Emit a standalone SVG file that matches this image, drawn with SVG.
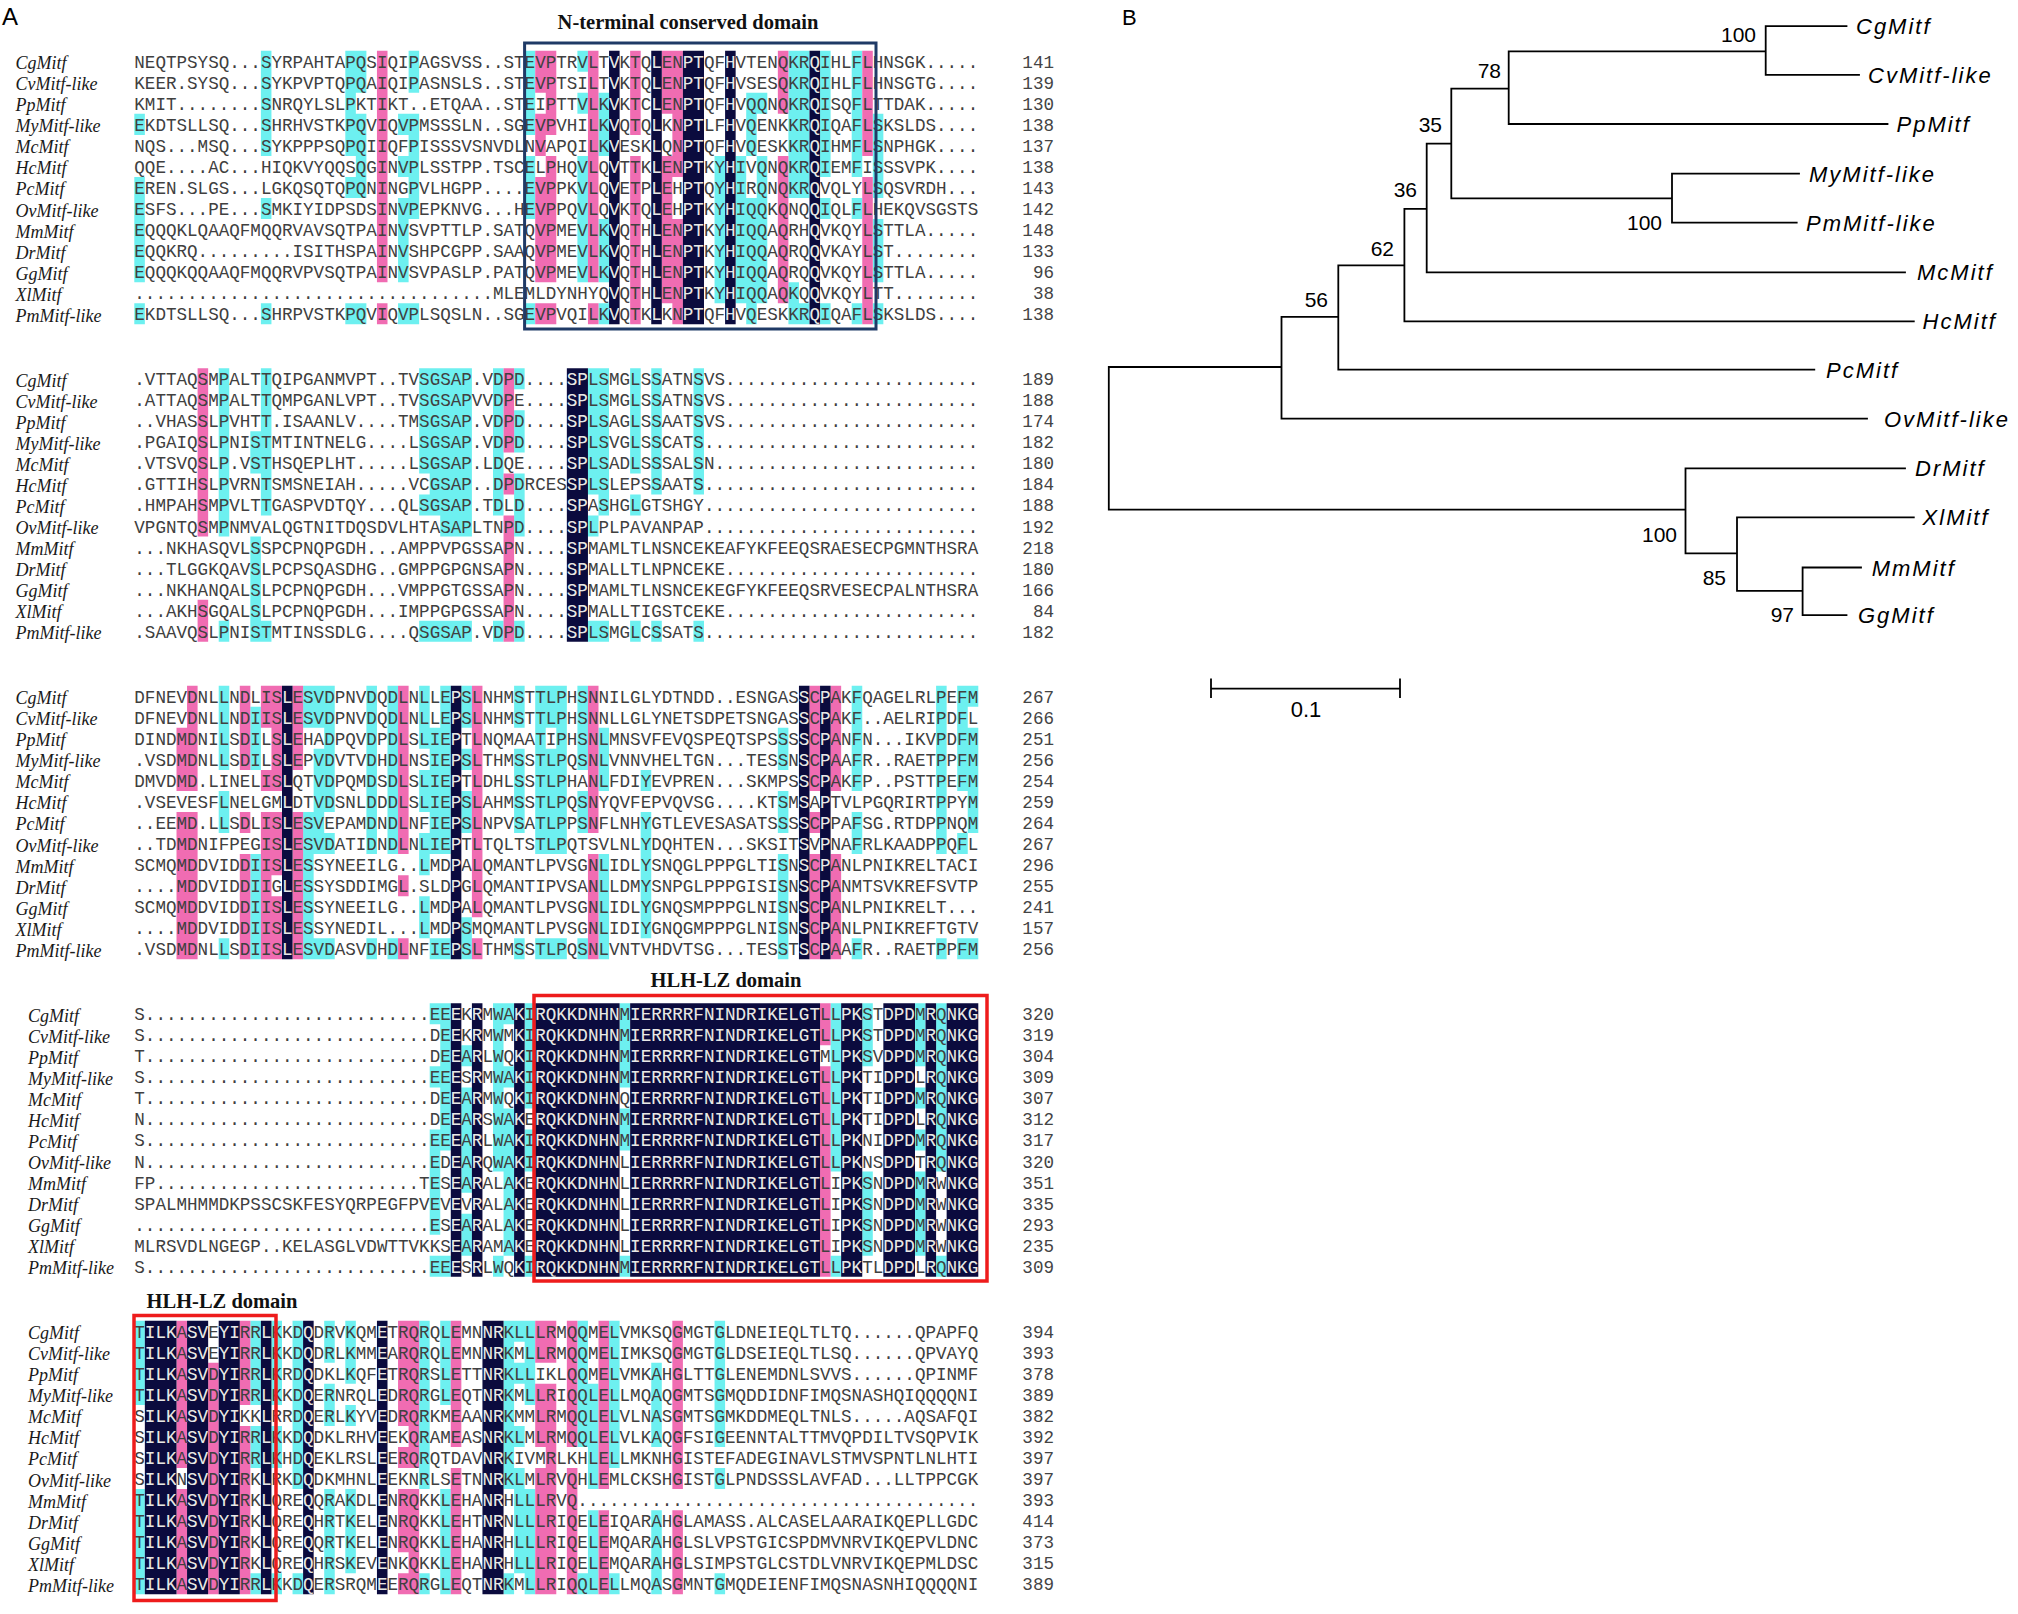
<svg xmlns="http://www.w3.org/2000/svg" xmlns:xlink="http://www.w3.org/1999/xlink" width="2018" height="1614" viewBox="0 0 2018 1614">
<style>
.sq{font-family:"Liberation Mono","DejaVu Sans Mono",monospace;font-size:17.58px}
.nm{font-family:"Liberation Serif",serif;font-style:italic;font-size:18px;fill:#1a1a1a}
.num{font-family:"Liberation Mono",monospace;font-size:17.58px;fill:#444;text-anchor:end}
.cy{fill:#6df0f0}
.pk{fill:#f06cb2}
.dk{fill:#0b0b3e}
.hd{font-family:"Liberation Serif",serif;font-weight:bold;font-size:20.5px;fill:#111;text-anchor:middle}
.bx1{fill:none;stroke:#1f3a66;stroke-width:3}
.bxr{fill:none;stroke:#ee1c1c;stroke-width:3.5}
.pl{font-family:"Liberation Sans",sans-serif;fill:#000}
.br{fill:none;stroke:#000;stroke-width:1.8;stroke-linecap:square}
.lf{font-family:"Liberation Sans",sans-serif;font-style:italic;font-size:22px;letter-spacing:2px;fill:#000}
.bs{font-family:"Liberation Sans",sans-serif;font-size:21px;fill:#000;text-anchor:end}
</style>
<rect width="2018" height="1614" fill="#fff"/>
<text class="pl" x="2" y="25" font-size="24">A</text>

<g id="block1" transform="translate(0,50.7)">
<path class="cy" transform="translate(134.3,0) scale(10.55,21.05)" d="M0 3h1v1h-1zM0 6h1v5h-1zM0 12h1v1h-1zM12 0h1v5h-1zM12 7h1v1h-1zM12 12h1v1h-1zM20 0h1v5h-1zM20 6h1v1h-1zM20 12h1v1h-1zM21 0h1v2h-1zM21 3h1v4h-1zM21 12h1v1h-1zM25 3h1v1h-1zM25 5h1v1h-1zM25 7h1v4h-1zM25 12h1v1h-1zM26 0h1v2h-1zM26 3h1v5h-1zM26 12h1v1h-1zM37 0h1v4h-1zM37 5h1v3h-1zM37 12h1v1h-1zM42 0h1v1h-1zM42 2h1v1h-1zM42 5h1v6h-1zM44 2h1v3h-1zM44 8h1v3h-1zM44 12h1v1h-1zM55 5h1v7h-1zM57 5h1v7h-1zM58 2h1v3h-1zM58 7h1v6h-1zM59 2h1v1h-1zM59 5h1v7h-1zM62 0h1v7h-1zM62 11h1v2h-1zM63 0h1v7h-1zM63 12h1v1h-1zM65 0h1v6h-1zM65 7h1v1h-1zM65 12h1v1h-1zM68 0h1v6h-1zM68 7h1v1h-1zM68 12h1v1h-1zM70 3h1v4h-1zM70 8h1v3h-1zM70 12h1v1h-1z"/>
<path class="pk" transform="translate(134.3,0) scale(10.55,21.05)" d="M23 0h1v11h-1zM23 12h1v1h-1zM38 0h1v2h-1zM38 3h1v2h-1zM38 6h1v5h-1zM38 12h1v1h-1zM39 0h1v4h-1zM39 5h1v6h-1zM39 12h1v1h-1zM43 0h1v11h-1zM43 12h1v1h-1zM47 0h1v4h-1zM47 5h1v8h-1zM50 0h1v3h-1zM50 5h1v7h-1zM51 0h1v6h-1zM51 8h1v5h-1zM61 0h1v3h-1zM61 5h1v7h-1zM69 0h1v5h-1zM69 6h1v7h-1z"/>
<path class="dk" transform="translate(134.3,0) scale(10.55,21.05)" d="M45 0h1v13h-1zM49 0h1v13h-1zM52 0h2v13h-2zM56 0h1v13h-1zM64 0h1v13h-1z"/>
<clipPath id="k1"><path transform="translate(134.3,0) scale(10.55,21.05)" d="M45 0h1v13h-1zM49 0h1v13h-1zM52 0h2v13h-2zM56 0h1v13h-1zM64 0h1v13h-1z"/></clipPath>
<g class="nm">
<text x="15.5" y="18.5">CgMitf</text><text x="15.5" y="39.55">CvMitf-like</text><text x="15.5" y="60.6">PpMitf</text><text x="15.5" y="81.65">MyMitf-like</text><text x="15.5" y="102.7">McMitf</text><text x="15.5" y="123.75">HcMitf</text><text x="15.5" y="144.8">PcMitf</text><text x="15.5" y="165.85">OvMitf-like</text><text x="15.5" y="186.9">MmMitf</text><text x="15.5" y="207.95">DrMitf</text><text x="15.5" y="229">GgMitf</text><text x="15.5" y="250.05">XlMitf</text><text x="15.5" y="271.1">PmMitf-like</text>
</g>
<g fill="#404040"><g id="q1" class="sq">
<text x="134.3" y="17">NEQTPSYSQ...SYRPAHTAPQSIQIPAGSVSS..STEVPTRVLTVKTQLENPTQFHVTENQKRQIHLFLHNSGK.....</text>
<text x="134.3" y="38.05">KEER.SYSQ...SYKPVPTQPQAIQIPASNSLS..STEVPTSILTVKTQLENPTQFHVSESQKRQIHLFLHNSGTG....</text>
<text x="134.3" y="59.1">KMIT........SNRQYLSLPKTIKT..ETQAA..STEIPTTVLKVKTCLENPTQFHVQQNQKRQISQFLTTDAK.....</text>
<text x="134.3" y="80.15">EKDTSLLSQ...SHRHVSTKPQVIQVPMSSSLN..SGEVPVHILKVQTQLKNPTLFHVQENKKRQIQAFLSKSLDS....</text>
<text x="134.3" y="101.2">NQS...MSQ...SYKPPPSQPQIIQFPISSSVSNVDLNVAPQILKVESKLQNPTQFHVQESKKRQIHMFLSNPHGK....</text>
<text x="134.3" y="122.25">QQE....AC...HIQKVYQQSQGINVPLSSTPP.TSCELPHQVLQVTTKLENPTKYHIVQNQKRQIEMFISSSVPK....</text>
<text x="134.3" y="143.3">EREN.SLGS...LGKQSQTQPQNINGPVLHGPP....EVPPKVLQVETPLEHPTQYHIRQNQKRQVQLYLSQSVRDH...</text>
<text x="134.3" y="164.35">ESFS...PE...SMKIYIDPSDSINVPEPKNVG...HEVPPQVLQVKTQLEHPTKYHIQQKQNQQIQLFLHEKQVSGSTS</text>
<text x="134.3" y="185.4">EQQQKLQAAQFMQQRVAVSQTPAINVSVPTTLP.SATQVPMEVLKVQTHLENPTKYHIQQAQRHQVKQYLSTTLA.....</text>
<text x="134.3" y="206.45">EQQKRQ.........ISITHSPAINVSHPCGPP.SAAQVPMEVLKVQTHLENPTKYHIQQAQRQQVKAYLST........</text>
<text x="134.3" y="227.5">EQQQKQQAAQFMQQRVPVSQTPAINVSVPASLP.PATQVPMEVLKVQTHLENPTKYHIQQAQRQQVKQYLSTTLA.....</text>
<text x="134.3" y="248.55">..................................MLEMLDYNHYQVQTHLENPTKYHIQQAQKQQVKQYLTT........</text>
<text x="134.3" y="269.6">EKDTSLLSQ...SHRPVSTKPQVIQVPLSQSLN..SGEVPVQILKVQTKLKNPTQFHVQESKKRQIQAFLSKSLDS....</text>
</g></g>
<use xlink:href="#q1" href="#q1" fill="#e8e8e8" clip-path="url(#k1)"/>
<g class="num">
<text x="1054" y="17">141</text><text x="1054" y="38.05">139</text><text x="1054" y="59.1">130</text><text x="1054" y="80.15">138</text><text x="1054" y="101.2">137</text><text x="1054" y="122.25">138</text><text x="1054" y="143.3">143</text><text x="1054" y="164.35">142</text><text x="1054" y="185.4">148</text><text x="1054" y="206.45">133</text><text x="1054" y="227.5">96</text><text x="1054" y="248.55">38</text><text x="1054" y="269.6">138</text>
</g>
<rect class="bx1" x="524.6" y="-7.7" width="351.4" height="286"/>
<text class="hd" x="688" y="-21.7">N-terminal conserved domain</text>
</g>

<g id="block2" transform="translate(0,368.2)">
<path class="cy" transform="translate(134.3,0) scale(10.55,21.05)" d="M8 0h1v8h-1zM8 12h1v1h-1zM11 3h1v2h-1zM11 8h1v5h-1zM12 0h1v7h-1zM12 12h1v1h-1zM27 0h1v5h-1zM27 6h1v1h-1zM27 12h1v1h-1zM28 0h1v7h-1zM28 12h1v1h-1zM29 0h3v8h-3zM29 12h3v1h-3zM34 0h1v7h-1zM34 12h1v1h-1zM36 0h1v1h-1zM36 2h1v2h-1zM36 5h1v3h-1zM36 12h1v1h-1zM43 0h1v6h-1zM43 7h1v1h-1zM43 12h1v1h-1zM44 0h1v7h-1zM44 12h1v1h-1zM47 0h1v5h-1zM47 6h1v1h-1zM47 12h1v1h-1zM49 0h1v6h-1zM49 12h1v1h-1zM53 0h1v6h-1zM53 12h1v1h-1z"/>
<path class="pk" transform="translate(134.3,0) scale(10.55,21.05)" d="M6 0h1v8h-1zM6 11h1v2h-1zM35 0h1v4h-1zM35 5h1v1h-1zM35 7h1v6h-1z"/>
<path class="dk" transform="translate(134.3,0) scale(10.55,21.05)" d="M41 0h2v13h-2z"/>
<clipPath id="k2"><path transform="translate(134.3,0) scale(10.55,21.05)" d="M41 0h2v13h-2z"/></clipPath>
<g class="nm">
<text x="15.5" y="18.5">CgMitf</text><text x="15.5" y="39.55">CvMitf-like</text><text x="15.5" y="60.6">PpMitf</text><text x="15.5" y="81.65">MyMitf-like</text><text x="15.5" y="102.7">McMitf</text><text x="15.5" y="123.75">HcMitf</text><text x="15.5" y="144.8">PcMitf</text><text x="15.5" y="165.85">OvMitf-like</text><text x="15.5" y="186.9">MmMitf</text><text x="15.5" y="207.95">DrMitf</text><text x="15.5" y="229">GgMitf</text><text x="15.5" y="250.05">XlMitf</text><text x="15.5" y="271.1">PmMitf-like</text>
</g>
<g fill="#404040"><g id="q2" class="sq">
<text x="134.3" y="17">.VTTAQSMPALTTQIPGANMVPT..TVSGSAP.VDPD....SPLSMGLSSATNSVS........................</text>
<text x="134.3" y="38.05">.ATTAQSMPALTTQMPGANLVPT..TVSGSAPVVDPE....SPLSMGLSSATNSVS........................</text>
<text x="134.3" y="59.1">..VHASSLPVHTT.ISAANLV....TMSGSAP.VDPD....SPLSAGLSSAATSVS........................</text>
<text x="134.3" y="80.15">.PGAIQSLPNISTMTINTNELG....LSGSAP.VDPD....SPLSVGLSSCATS..........................</text>
<text x="134.3" y="101.2">.VTSVQSLP.VSTHSQEPLHT.....LSGSAP.LDQE....SPLSADLSSSALSN.........................</text>
<text x="134.3" y="122.25">.GTTIHSLPVRNTSMSNEIAH.....VCGSAP..DPDRCESSPLSLEPSSAATS..........................</text>
<text x="134.3" y="143.3">.HMPAHSMPVLTTGASPVDTQY...QLSGSAP.TDLD....SPASHGLGTSHGY..........................</text>
<text x="134.3" y="164.35">VPGNTQSMPNMVALQGTNITDQSDVLHTASAPLTNPD....SPLPLPAVANPAP..........................</text>
<text x="134.3" y="185.4">...NKHASQVLSSPCPNQPGDH...AMPPVPGSSAPN....SPMAMLTLNSNCEKEAFYKFEEQSRAESECPGMNTHSRA</text>
<text x="134.3" y="206.45">...TLGGKQAVSLPCPSQASDHG..GMPPGPGNSAPN....SPMALLTLNPNCEKE........................</text>
<text x="134.3" y="227.5">...NKHANQALSLPCPNQPGDH...VMPPGTGSSAPN....SPMAMLTLNSNCEKEGFYKFEEQSRVESECPALNTHSRA</text>
<text x="134.3" y="248.55">...AKHSGQALSLPCPNQPGDH...IMPPGPGSSAPN....SPMALLTIGSTCEKE........................</text>
<text x="134.3" y="269.6">.SAAVQSLPNISTMTINSSDLG....QSGSAP.VDPD....SPLSMGLCSSATS..........................</text>
</g></g>
<use xlink:href="#q2" href="#q2" fill="#e8e8e8" clip-path="url(#k2)"/>
<g class="num">
<text x="1054" y="17">189</text><text x="1054" y="38.05">188</text><text x="1054" y="59.1">174</text><text x="1054" y="80.15">182</text><text x="1054" y="101.2">180</text><text x="1054" y="122.25">184</text><text x="1054" y="143.3">188</text><text x="1054" y="164.35">192</text><text x="1054" y="185.4">218</text><text x="1054" y="206.45">180</text><text x="1054" y="227.5">166</text><text x="1054" y="248.55">84</text><text x="1054" y="269.6">182</text>
</g>
</g>

<g id="block3" transform="translate(0,685.7)">
<path class="cy" transform="translate(134.3,0) scale(10.55,21.05)" d="M8 0h1v4h-1zM8 5h1v2h-1zM8 12h1v1h-1zM11 1h1v3h-1zM11 8h1v5h-1zM16 0h1v2h-1zM16 6h1v7h-1zM17 0h1v2h-1zM17 3h1v5h-1zM17 12h1v1h-1zM18 0h1v6h-1zM18 7h1v1h-1zM18 12h1v1h-1zM22 0h1v8h-1zM22 12h1v1h-1zM24 0h1v8h-1zM24 12h1v1h-1zM27 0h1v3h-1zM27 4h1v2h-1zM27 7h1v2h-1zM27 10h1v2h-1zM28 2h1v6h-1zM28 12h1v1h-1zM29 0h1v8h-1zM29 12h1v1h-1zM31 0h1v2h-1zM31 3h1v1h-1zM31 5h1v2h-1zM31 11h1v2h-1zM36 0h1v2h-1zM36 3h1v4h-1zM36 12h1v1h-1zM38 0h1v8h-1zM38 12h1v1h-1zM39 0h1v2h-1zM39 3h1v5h-1zM39 12h1v1h-1zM40 0h1v8h-1zM40 12h1v1h-1zM42 0h1v4h-1zM42 5h1v2h-1zM42 12h1v1h-1zM44 2h1v3h-1zM44 8h1v5h-1zM48 4h1v1h-1zM48 6h1v6h-1zM61 2h1v2h-1zM61 5h1v2h-1zM61 8h1v5h-1zM68 0h1v5h-1zM68 6h1v2h-1zM68 12h1v1h-1zM76 0h1v8h-1zM76 12h1v1h-1zM78 0h1v5h-1zM78 7h1v1h-1zM78 12h1v1h-1zM79 0h1v1h-1zM79 2h1v5h-1zM79 12h1v1h-1z"/>
<path class="pk" transform="translate(134.3,0) scale(10.55,21.05)" d="M4 2h1v3h-1zM4 6h1v7h-1zM5 0h1v5h-1zM5 6h1v7h-1zM10 0h1v4h-1zM10 6h1v1h-1zM10 8h1v5h-1zM12 0h1v2h-1zM12 4h1v1h-1zM12 6h1v7h-1zM13 0h1v5h-1zM13 6h1v3h-1zM13 10h1v3h-1zM15 0h1v4h-1zM15 6h1v7h-1zM25 0h1v8h-1zM25 9h1v1h-1zM25 12h1v1h-1zM32 0h1v11h-1zM32 12h1v1h-1zM43 0h1v7h-1zM43 8h1v5h-1zM64 0h1v5h-1zM64 6h1v1h-1zM64 8h1v5h-1zM66 0h1v5h-1zM66 8h1v5h-1z"/>
<path class="dk" transform="translate(134.3,0) scale(10.55,21.05)" d="M14 0h1v13h-1zM30 0h1v13h-1zM63 0h1v13h-1zM65 0h1v13h-1z"/>
<clipPath id="k3"><path transform="translate(134.3,0) scale(10.55,21.05)" d="M14 0h1v13h-1zM30 0h1v13h-1zM63 0h1v13h-1zM65 0h1v13h-1z"/></clipPath>
<g class="nm">
<text x="15.5" y="18.5">CgMitf</text><text x="15.5" y="39.55">CvMitf-like</text><text x="15.5" y="60.6">PpMitf</text><text x="15.5" y="81.65">MyMitf-like</text><text x="15.5" y="102.7">McMitf</text><text x="15.5" y="123.75">HcMitf</text><text x="15.5" y="144.8">PcMitf</text><text x="15.5" y="165.85">OvMitf-like</text><text x="15.5" y="186.9">MmMitf</text><text x="15.5" y="207.95">DrMitf</text><text x="15.5" y="229">GgMitf</text><text x="15.5" y="250.05">XlMitf</text><text x="15.5" y="271.1">PmMitf-like</text>
</g>
<g fill="#404040"><g id="q3" class="sq">
<text x="134.3" y="17">DFNEVDNLLNDLISLESVDPNVDQDLNLLEPSLNHMSTTLPHSNNILGLYDTNDD..ESNGASSCPAKFQAGELRLPEFM</text>
<text x="134.3" y="38.05">DFNEVDNLLNDIISLESVDPNVDQDLNLLEPSLNHMSTTLPHSNNLLGLYNETSDPETSNGASSCPAKF..AELRIPDFL</text>
<text x="134.3" y="59.1">DINDMDNILSDILSLEHADPQVDPDLSLIEPTLNQMAATIPHSNLMNSVFEVQSPEQTSPSSSSCPANFN...IKVPDFM</text>
<text x="134.3" y="80.15">.VSDMDNLLSDILSLEPVDVTVDHDLNSIEPSLTHMSSTLPQSNLVNNVHELTGN...TESSNSCPAAFR..RAETPPFM</text>
<text x="134.3" y="101.2">DMVDMD.LINELISLQTVDPQMDSDLSLIEPTLDHLSSTLPHANLFDIYEVPREN...SKMPSSCPAKFP..PSTTPEFM</text>
<text x="134.3" y="122.25">.VSEVESFLNELGMLDTVDSNLDDDLSLIEPSLAHMSSTLPQSNYQVFEPVQVSG....KTSMSAPTVLPGQRIRTPPYM</text>
<text x="134.3" y="143.3">..EEMD.LLSDLISLESVEPAMDNDLNFIEPSLNPVSATLPPSNFLNHYGTLEVESASATSSSSCPPAFSG.RTDPPNQM</text>
<text x="134.3" y="164.35">..TDMDNIFPEGISLESVDATIDNDLNLIEPTLTQLTSTLPQTSVLNLYDQHTEN...SKSITSVPNAFRLKAADPPQFL</text>
<text x="134.3" y="185.4">SCMQMDDVIDDIISLESSYNEEILG..LMDPALQMANTLPVSGNLIDLYSNQGLPPPGLTISNSCPANLPNIKRELTACI</text>
<text x="134.3" y="206.45">....MDDVIDDIIGLESSYSDDIMGL.SLDPGLQMANTIPVSANLLDMYSNPGLPPPGISISNSCPANMTSVKREFSVTP</text>
<text x="134.3" y="227.5">SCMQMDDVIDDIISLESSYNEEILG..LMDPALQMANTLPVSGNLIDLYGNQSMPPPGLNISNSCPANLPNIKRELT...</text>
<text x="134.3" y="248.55">....MDDVIDDIISLESSYNEDIL...LMDPSMQMANTLPVSGNLIDIYGNQGMPPPGLNISNSCPANLPNIKREFTGTV</text>
<text x="134.3" y="269.6">.VSDMDNLLSDIISLESVDASVDHDLNFIEPSLTHMSSTLPQSNLVNTVHDVTSG...TESSTSCPAAFR..RAETPPFM</text>
</g></g>
<use xlink:href="#q3" href="#q3" fill="#e8e8e8" clip-path="url(#k3)"/>
<g class="num">
<text x="1054" y="17">267</text><text x="1054" y="38.05">266</text><text x="1054" y="59.1">251</text><text x="1054" y="80.15">256</text><text x="1054" y="101.2">254</text><text x="1054" y="122.25">259</text><text x="1054" y="143.3">264</text><text x="1054" y="164.35">267</text><text x="1054" y="185.4">296</text><text x="1054" y="206.45">255</text><text x="1054" y="227.5">241</text><text x="1054" y="248.55">157</text><text x="1054" y="269.6">256</text>
</g>
</g>

<g id="block4" transform="translate(0,1003.2)">
<path class="cy" transform="translate(134.3,0) scale(10.55,21.05)" d="M28 0h1v1h-1zM28 3h1v1h-1zM28 6h1v5h-1zM28 12h1v1h-1zM29 0h1v7h-1zM29 12h1v1h-1zM31 2h1v1h-1zM31 4h1v5h-1zM31 10h1v2h-1zM34 0h1v8h-1zM34 12h1v1h-1zM35 0h1v1h-1zM35 3h1v1h-1zM35 5h1v7h-1zM37 0h1v5h-1zM37 6h1v2h-1zM37 12h1v1h-1zM46 0h1v4h-1zM46 5h1v2h-1zM46 12h1v1h-1zM66 0h1v8h-1zM66 12h1v1h-1zM69 0h1v3h-1zM69 8h1v4h-1zM74 0h1v3h-1zM74 4h1v1h-1zM74 6h1v1h-1zM74 8h1v4h-1zM76 0h1v8h-1zM76 12h1v1h-1z"/>
<path class="pk" transform="translate(134.3,0) scale(10.55,21.05)" d="M65 0h1v2h-1zM65 3h1v10h-1z"/>
<path class="dk" transform="translate(134.3,0) scale(10.55,21.05)" d="M30 0h1v13h-1zM32 0h1v13h-1zM36 0h1v13h-1zM38 0h8v13h-8zM47 0h18v13h-18zM67 0h2v13h-2zM71 0h3v13h-3zM75 0h1v13h-1zM77 0h3v13h-3z"/>
<clipPath id="k4"><path transform="translate(134.3,0) scale(10.55,21.05)" d="M30 0h1v13h-1zM32 0h1v13h-1zM36 0h1v13h-1zM38 0h8v13h-8zM47 0h18v13h-18zM67 0h2v13h-2zM71 0h3v13h-3zM75 0h1v13h-1zM77 0h3v13h-3z"/></clipPath>
<g class="nm">
<text x="28" y="18.5">CgMitf</text><text x="28" y="39.55">CvMitf-like</text><text x="28" y="60.6">PpMitf</text><text x="28" y="81.65">MyMitf-like</text><text x="28" y="102.7">McMitf</text><text x="28" y="123.75">HcMitf</text><text x="28" y="144.8">PcMitf</text><text x="28" y="165.85">OvMitf-like</text><text x="28" y="186.9">MmMitf</text><text x="28" y="207.95">DrMitf</text><text x="28" y="229">GgMitf</text><text x="28" y="250.05">XlMitf</text><text x="28" y="271.1">PmMitf-like</text>
</g>
<g fill="#404040"><g id="q4" class="sq">
<text x="134.3" y="17">S...........................EEEKRMWAKIRQKKDNHNMIERRRRFNINDRIKELGTLLPKSTDPDMRQNKG</text>
<text x="134.3" y="38.05">S...........................DEEKRMWMKIRQKKDNHNMIERRRRFNINDRIKELGTLLPKSTDPDMRQNKG</text>
<text x="134.3" y="59.1">T...........................DEEARLWQKIRQKKDNHNMIERRRRFNINDRIKELGTMLPKSVDPDMRQNKG</text>
<text x="134.3" y="80.15">S...........................EEESRMWAKIRQKKDNHNMIERRRRFNINDRIKELGTLLPKTIDPDLRQNKG</text>
<text x="134.3" y="101.2">T...........................DEEARMWQKIRQKKDNHNQIERRRRFNINDRIKELGTLLPKTIDPDMRQNKG</text>
<text x="134.3" y="122.25">N...........................DEEARSWAKERQKKDNHNMIERRRRFNINDRIKELGTLLPKTIDPDLRQNKG</text>
<text x="134.3" y="143.3">S...........................EEEARLWAKIRQKKDNHNMIERRRRFNINDRIKELGTLLPKNIDPDMRQNKG</text>
<text x="134.3" y="164.35">N...........................EDEARQWAKIRQKKDNHNLIERRRRFNINDRIKELGTLLPKNSDPDTRQNKG</text>
<text x="134.3" y="185.4">FP.........................TESEARALAKERQKKDNHNLIERRRRFNINDRIKELGTLIPKSNDPDMRWNKG</text>
<text x="134.3" y="206.45">SPALMHMMDKPSSCSKFESYQRPEGFPVEVEVRALAKERQKKDNHNLIERRRRFNINDRIKELGTLIPKSNDPDMRWNKG</text>
<text x="134.3" y="227.5">............................ESEARALAKERQKKDNHNLIERRRRFNINDRIKELGTLIPKSNDPDMRWNKG</text>
<text x="134.3" y="248.55">MLRSVDLNGEGP..KELASGLVDWTTVKKSEARAMAKERQKKDNHNLIERRRRFNINDRIKELGTLIPKSNDPDMRWNKG</text>
<text x="134.3" y="269.6">S...........................EEESRLWQKIRQKKDNHNMIERRRRFNINDRIKELGTLLPKTLDPDLRQNKG</text>
</g></g>
<use xlink:href="#q4" href="#q4" fill="#e8e8e8" clip-path="url(#k4)"/>
<g class="num">
<text x="1054" y="17">320</text><text x="1054" y="38.05">319</text><text x="1054" y="59.1">304</text><text x="1054" y="80.15">309</text><text x="1054" y="101.2">307</text><text x="1054" y="122.25">312</text><text x="1054" y="143.3">317</text><text x="1054" y="164.35">320</text><text x="1054" y="185.4">351</text><text x="1054" y="206.45">335</text><text x="1054" y="227.5">293</text><text x="1054" y="248.55">235</text><text x="1054" y="269.6">309</text>
</g>
<rect class="bxr" x="534" y="-7.7" width="453" height="285.5"/>
<text class="hd" x="726" y="-16.2">HLH-LZ domain</text>
</g>

<g id="block5" transform="translate(0,1320.7)">
<path class="cy" transform="translate(134.3,0) scale(10.55,21.05)" d="M0 0h1v4h-1zM0 8h1v5h-1zM11 0h1v4h-1zM11 5h1v2h-1zM11 12h1v1h-1zM13 0h1v4h-1zM13 5h1v2h-1zM13 12h1v1h-1zM15 0h1v8h-1zM15 12h1v1h-1zM18 0h1v2h-1zM18 3h1v2h-1zM18 8h1v5h-1zM20 0h1v3h-1zM20 4h1v1h-1zM20 8h1v4h-1zM27 0h1v8h-1zM27 12h1v1h-1zM29 0h1v4h-1zM29 8h1v5h-1zM35 0h1v8h-1zM35 12h1v1h-1zM36 0h1v1h-1zM36 2h1v1h-1zM36 5h1v1h-1zM36 7h1v5h-1zM37 0h1v4h-1zM37 8h1v5h-1zM42 0h1v6h-1zM42 12h1v1h-1zM43 3h1v5h-1zM43 9h1v4h-1zM45 0h1v7h-1zM45 12h1v1h-1zM49 2h1v4h-1zM49 9h1v4h-1zM55 0h1v6h-1zM55 7h1v1h-1zM55 12h1v1h-1z"/>
<path class="pk" transform="translate(134.3,0) scale(10.55,21.05)" d="M4 0h1v7h-1zM4 8h1v5h-1zM7 2h1v11h-1zM10 0h1v4h-1zM10 5h1v8h-1zM25 0h1v5h-1zM25 6h1v1h-1zM25 8h1v3h-1zM25 12h1v1h-1zM26 0h1v7h-1zM26 8h1v5h-1zM30 0h1v6h-1zM30 7h1v6h-1zM38 0h1v2h-1zM38 3h1v3h-1zM38 7h1v6h-1zM39 0h1v2h-1zM39 3h1v10h-1zM41 0h1v6h-1zM41 7h1v6h-1zM44 0h1v8h-1zM44 9h1v4h-1zM51 0h1v8h-1zM51 9h1v4h-1z"/>
<path class="dk" transform="translate(134.3,0) scale(10.55,21.05)" d="M1 0h3v13h-3zM5 0h2v13h-2zM8 0h2v13h-2zM12 0h1v13h-1zM16 0h1v13h-1zM23 0h1v13h-1zM33 0h2v13h-2z"/>
<clipPath id="k5"><path transform="translate(134.3,0) scale(10.55,21.05)" d="M1 0h3v13h-3zM5 0h2v13h-2zM8 0h2v13h-2zM12 0h1v13h-1zM16 0h1v13h-1zM23 0h1v13h-1zM33 0h2v13h-2z"/></clipPath>
<g class="nm">
<text x="28" y="18.5">CgMitf</text><text x="28" y="39.55">CvMitf-like</text><text x="28" y="60.6">PpMitf</text><text x="28" y="81.65">MyMitf-like</text><text x="28" y="102.7">McMitf</text><text x="28" y="123.75">HcMitf</text><text x="28" y="144.8">PcMitf</text><text x="28" y="165.85">OvMitf-like</text><text x="28" y="186.9">MmMitf</text><text x="28" y="207.95">DrMitf</text><text x="28" y="229">GgMitf</text><text x="28" y="250.05">XlMitf</text><text x="28" y="271.1">PmMitf-like</text>
</g>
<g fill="#404040"><g id="q5" class="sq">
<text x="134.3" y="17">TILKASVEYIRRLKKDQDRVKQMETRQRQLEMNNRKLLLRMQQMELVMKSQGMGTGLDNEIEQLTLTQ......QPAPFQ</text>
<text x="134.3" y="38.05">TILKASVEYIRRLKKDQDRLKMMEARQRQLEMNNRKMLLRMQQMELIMKSQGMGTGLDSEIEQLTLSQ......QPVAYQ</text>
<text x="134.3" y="59.1">TILKASVDYIRRLKRDQDKLKQFETRQRSLETTNRKLLIKLQQMELVMKAHGLTTGLENEMDNLSVVS......QPINMF</text>
<text x="134.3" y="80.15">TILKASVDYIRRLKKDQERNRQLEDRQRGLEQTNRKMLLRIQQLELLMQAQGMTSGMQDDIDNFIMQSNASHQIQQQQNI</text>
<text x="134.3" y="101.2">SILKASVDYIKKLRRDQERLKYVEDRQRKMEAANRKMMLRMQQLELVLNASGMTSGMKDDMEQLTNLS.....AQSAFQI</text>
<text x="134.3" y="122.25">SILKASVDYIRRLKKDQDKLRHVEEKQRAMEASNRKLMLRMQQLELVLKAQGFSIGEENNTALTTMVQPDILTVSQPVIK</text>
<text x="134.3" y="143.3">SILKASVDYIRRLKHDQEKLRSLEERQRQTDAVNRKIVMRLKHLELLMKNHGISTEFADEGINAVLSTMVSPNTLNLHTI</text>
<text x="134.3" y="164.35">SILKNSVDYIRKLRKDQDKMHNLEEKNRLSETNNRKLMLRVQHLEMLCKSHGISTGLPNDSSSLAVFAD...LLTPPCGK</text>
<text x="134.3" y="185.4">TILKASVDYIRKLQREQQRAKDLENRQKKLEHANRHLLLRVQ......................................</text>
<text x="134.3" y="206.45">TILKASVDYIRKLQREQHRTKELENRQKKLEHTNRNLLLRIQELEIQARAHGLAMASS.ALCASELAARAIKQEPLLGDC</text>
<text x="134.3" y="227.5">TILKASVDYIRKLQREQQRTKELENRQKKLEHANRHLLLRIQELEMQARAHGLSLVPSTGICSPDMVNRVIKQEPVLDNC</text>
<text x="134.3" y="248.55">TILKASVDYIRKLQREQHRSKEVENKQKKLEHANRHLLLRIQELEMQARAHGLSIMPSTGLCSTDLVNRVIKQEPMLDSC</text>
<text x="134.3" y="269.6">TILKASVDYIRRLKKDQERSRQMEERQRGLEQTNRKMLLRIQQLELLMQASGMNTGMQDEIENFIMQSNASNHIQQQQNI</text>
</g></g>
<use xlink:href="#q5" href="#q5" fill="#e8e8e8" clip-path="url(#k5)"/>
<g class="num">
<text x="1054" y="17">394</text><text x="1054" y="38.05">393</text><text x="1054" y="59.1">378</text><text x="1054" y="80.15">389</text><text x="1054" y="101.2">382</text><text x="1054" y="122.25">392</text><text x="1054" y="143.3">397</text><text x="1054" y="164.35">397</text><text x="1054" y="185.4">393</text><text x="1054" y="206.45">414</text><text x="1054" y="227.5">373</text><text x="1054" y="248.55">315</text><text x="1054" y="269.6">389</text>
</g>
<rect class="bxr" x="134" y="-5.2" width="142" height="285"/>
<text class="hd" x="222" y="-12.7">HLH-LZ domain</text>
</g>

<g id="panelB">
<text class="pl" x="1122" y="25" font-size="22">B</text>
<g id="branches">
<path class="br" d="M1108.8 367V509.6M1108.8 367H1281.5M1108.8 509.6H1685.5M1281.5 316.8V418.7M1281.5 418.7H1867M1281.5 316.8H1338.3M1338.3 265.4V369.6M1338.3 369.6H1814.3M1338.3 265.4H1404.4M1404.4 208.9V321.4M1404.4 321.4H1913.8M1404.4 208.9H1426.7M1426.7 143.7V272.3M1426.7 272.3H1905M1426.7 143.7H1451.3M1451.3 88.6V198.3M1451.3 198.3H1672M1451.3 88.6H1508.7M1672 173.6V222.7M1672 173.6H1799M1672 222.7H1796.7M1508.7 51.4V124M1508.7 124H1887.5M1508.7 51.4H1765.7M1765.7 26.2V74.8M1765.7 26.2H1846.5M1765.7 74.8H1859M1685.5 468.3V553.3M1685.5 468.3H1905M1685.5 553.3H1737M1737 517.4V590.9M1737 517.4H1913.8M1737 590.9H1802.6M1802.6 567.5V615.2M1802.6 567.5H1861M1802.6 615.2H1846.5"/>
</g>
<g id="leaf-CgMitf"><text class="lf" x="1856" y="34">CgMitf</text></g>
<g id="leaf-CvMitf-like"><text class="lf" x="1868" y="82.8">CvMitf-like</text></g>
<g id="leaf-PpMitf"><text class="lf" x="1896.5" y="132">PpMitf</text></g>
<g id="leaf-MyMitf-like"><text class="lf" x="1809" y="181.6">MyMitf-like</text></g>
<g id="leaf-PmMitf-like"><text class="lf" x="1806" y="230.7">PmMitf-like</text></g>
<g id="leaf-McMitf"><text class="lf" x="1917" y="280.3">McMitf</text></g>
<g id="leaf-HcMitf"><text class="lf" x="1922.6" y="329.4">HcMitf</text></g>
<g id="leaf-PcMitf"><text class="lf" x="1826" y="377.6">PcMitf</text></g>
<g id="leaf-OvMitf-like"><text class="lf" x="1884" y="426.7">OvMitf-like</text></g>
<g id="leaf-DrMitf"><text class="lf" x="1915" y="476.3">DrMitf</text></g>
<g id="leaf-XlMitf"><text class="lf" x="1922.6" y="525.4">XlMitf</text></g>
<g id="leaf-MmMitf"><text class="lf" x="1871.7" y="575.5">MmMitf</text></g>
<g id="leaf-GgMitf"><text class="lf" x="1858" y="623.2">GgMitf</text></g>
<g id="node-cg-cv"><text class="bs" x="1756" y="41.5">100</text></g>
<g id="node-78"><text class="bs" x="1501" y="78">78</text></g>
<g id="node-35"><text class="bs" x="1442" y="131.5">35</text></g>
<g id="node-36"><text class="bs" x="1417" y="197">36</text></g>
<g id="node-62"><text class="bs" x="1394" y="256">62</text></g>
<g id="node-56"><text class="bs" x="1328" y="306.5">56</text></g>
<g id="node-my-pm"><text class="bs" x="1662" y="229.5">100</text></g>
<g id="node-vert"><text class="bs" x="1677" y="541.5">100</text></g>
<g id="node-85"><text class="bs" x="1726" y="585">85</text></g>
<g id="node-97"><text class="bs" x="1794" y="622">97</text></g>
<g id="scalebar">
<path class="br" d="M1211 688.7H1400M1211 679.5V697M1400 679.5V697"/>
<text class="pl" x="1306" y="717" font-size="22" text-anchor="middle">0.1</text>
</g>
</g>
</svg>
